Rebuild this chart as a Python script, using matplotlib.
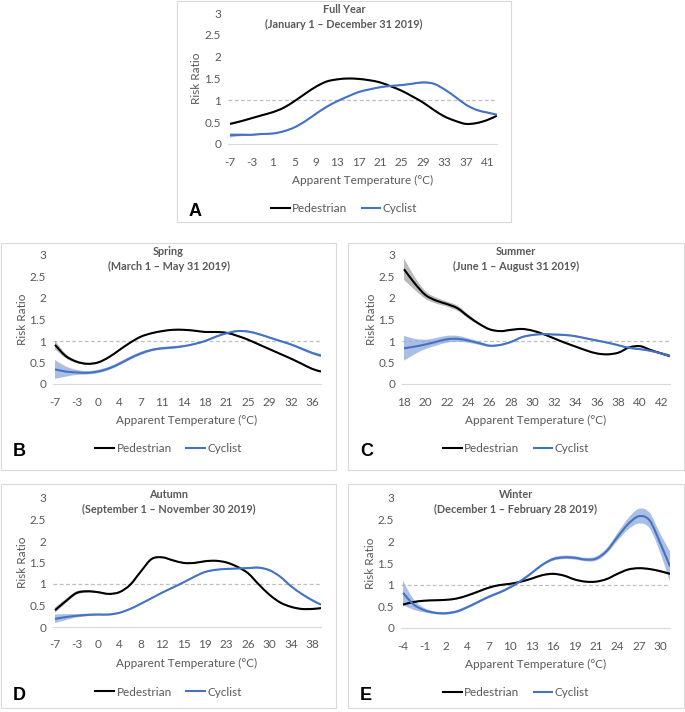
import numpy as np
import matplotlib
matplotlib.use('Agg')
import matplotlib.pyplot as plt
from matplotlib.patches import Rectangle, PathPatch
from matplotlib.path import Path
from matplotlib.lines import Line2D

plt.rcParams['font.family'] = ['Lato', 'DejaVu Sans']

W, H = 685, 712

# tick labels (Excel category axis, one label per tick position)
ticks_a = ['-7', '-3', '1', '5', '9', '13', '17', '21', '25', '29', '33', '37', '41']
ticks_b = ['-7', '-3', '0', '4', '7', '11', '14', '18', '21', '25', '29', '32', '36']
ticks_c = ['18', '20', '22', '24', '26', '28', '30', '32', '34', '36', '38', '40', '42']
ticks_d = ['-7', '-3', '0', '4', '8', '12', '15', '19', '23', '26', '30', '34', '38']
ticks_e = ['-4', '-1', '2', '4', '7', '10', '13', '16', '19', '21', '24', '27', '30']

# risk ratios read every half tick, last value at the right edge of the axis
ped_a = [0.46, 0.52, 0.59, 0.66, 0.73, 0.83, 0.98, 1.15, 1.31, 1.43, 1.48, 1.50, 1.49,
         1.46, 1.41, 1.32, 1.22, 1.09, 0.95, 0.78, 0.63, 0.53, 0.46, 0.48, 0.55, 0.65]
ped_a_ci = [0.03, 0.02, 0.015, 0.015, 0.015, 0.015, 0.015, 0.015, 0.015, 0.015, 0.015, 0.015, 0.015,
            0.015, 0.015, 0.015, 0.015, 0.015, 0.015, 0.015, 0.015, 0.015, 0.015, 0.015, 0.015, 0.02]
cyc_a = [0.20, 0.21, 0.21, 0.23, 0.24, 0.29, 0.38, 0.52, 0.69, 0.85, 0.98, 1.09, 1.19,
         1.25, 1.30, 1.33, 1.35, 1.38, 1.41, 1.38, 1.25, 1.08, 0.90, 0.78, 0.72, 0.67]
cyc_a_ci = [0.05, 0.03, 0.02, 0.015, 0.015, 0.015, 0.015, 0.015, 0.015, 0.015, 0.015, 0.015, 0.015,
            0.015, 0.015, 0.015, 0.015, 0.015, 0.02, 0.02, 0.015, 0.015, 0.015, 0.015, 0.02, 0.02]

ped_b = [0.91, 0.65, 0.52, 0.47, 0.50, 0.62, 0.79, 0.96, 1.10, 1.18, 1.23, 1.26, 1.26,
         1.24, 1.21, 1.21, 1.19, 1.12, 1.03, 0.92, 0.81, 0.70, 0.59, 0.47, 0.35, 0.29]
ped_b_ci = [0.10, 0.05, 0.03, 0.02, 0.02, 0.015, 0.015, 0.015, 0.015, 0.015, 0.015, 0.015, 0.015,
            0.015, 0.015, 0.015, 0.015, 0.015, 0.015, 0.015, 0.015, 0.015, 0.015, 0.015, 0.015, 0.02]
cyc_b = [0.34, 0.29, 0.27, 0.26, 0.29, 0.36, 0.47, 0.60, 0.71, 0.79, 0.83, 0.85, 0.88,
         0.93, 1.00, 1.10, 1.18, 1.23, 1.22, 1.16, 1.08, 1.00, 0.92, 0.82, 0.72, 0.66]
cyc_b_ci = [0.22, 0.12, 0.06, 0.04, 0.04, 0.04, 0.04, 0.04, 0.04, 0.03, 0.03, 0.03, 0.02,
            0.02, 0.02, 0.02, 0.02, 0.02, 0.02, 0.02, 0.02, 0.02, 0.02, 0.03, 0.03, 0.04]

ped_c = [2.67, 2.34, 2.07, 1.94, 1.86, 1.76, 1.57, 1.40, 1.27, 1.23, 1.26, 1.28, 1.24,
         1.16, 1.06, 0.96, 0.87, 0.78, 0.71, 0.69, 0.73, 0.85, 0.88, 0.79, 0.71, 0.65]
ped_c_ci = [0.25, 0.15, 0.09, 0.07, 0.06, 0.06, 0.05, 0.03, 0.02, 0.02, 0.02, 0.015, 0.015,
            0.015, 0.015, 0.015, 0.015, 0.015, 0.015, 0.015, 0.015, 0.02, 0.02, 0.02, 0.02, 0.03]
cyc_c = [0.83, 0.87, 0.92, 0.98, 1.04, 1.05, 1.01, 0.95, 0.89, 0.91, 0.98, 1.09, 1.14,
         1.16, 1.15, 1.14, 1.11, 1.06, 1.01, 0.96, 0.90, 0.84, 0.81, 0.77, 0.71, 0.65]
cyc_c_ci = [0.29, 0.18, 0.11, 0.09, 0.08, 0.07, 0.05, 0.04, 0.025, 0.02, 0.02, 0.02, 0.02,
            0.02, 0.02, 0.02, 0.02, 0.02, 0.02, 0.02, 0.02, 0.02, 0.02, 0.02, 0.03, 0.04]

ped_d = [0.39, 0.60, 0.79, 0.83, 0.81, 0.77, 0.81, 0.98, 1.29, 1.58, 1.62, 1.55, 1.49,
         1.49, 1.53, 1.54, 1.50, 1.40, 1.25, 0.99, 0.75, 0.57, 0.47, 0.42, 0.42, 0.44]
ped_d_ci = [0.06, 0.05, 0.04, 0.03, 0.02, 0.02, 0.015, 0.015, 0.015, 0.015, 0.015, 0.015, 0.015,
            0.015, 0.015, 0.015, 0.015, 0.015, 0.015, 0.015, 0.015, 0.015, 0.015, 0.015, 0.015, 0.02]
cyc_d = [0.19, 0.23, 0.26, 0.28, 0.29, 0.29, 0.33, 0.42, 0.54, 0.67, 0.80, 0.92, 1.04,
         1.17, 1.28, 1.33, 1.35, 1.36, 1.37, 1.38, 1.32, 1.17, 0.95, 0.77, 0.62, 0.52]
cyc_d_ci = [0.10, 0.07, 0.04, 0.03, 0.02, 0.02, 0.015, 0.015, 0.015, 0.015, 0.015, 0.015, 0.015,
            0.015, 0.015, 0.015, 0.015, 0.015, 0.02, 0.02, 0.02, 0.015, 0.015, 0.015, 0.02, 0.02]

ped_e = [0.54, 0.60, 0.63, 0.64, 0.65, 0.68, 0.75, 0.84, 0.93, 0.99, 1.02, 1.07, 1.14,
         1.22, 1.25, 1.21, 1.12, 1.07, 1.07, 1.13, 1.25, 1.35, 1.38, 1.36, 1.31, 1.25]
ped_e_ci = [0.03, 0.02, 0.015, 0.015, 0.015, 0.015, 0.015, 0.015, 0.015, 0.015, 0.015, 0.015, 0.015,
            0.015, 0.015, 0.015, 0.015, 0.015, 0.015, 0.015, 0.015, 0.015, 0.015, 0.015, 0.02, 0.03]
cyc_e = [0.81, 0.54, 0.41, 0.35, 0.34, 0.38, 0.48, 0.60, 0.72, 0.82, 0.94, 1.09, 1.27,
         1.46, 1.59, 1.63, 1.62, 1.58, 1.60, 1.78, 2.10, 2.40, 2.58, 2.48, 1.95, 1.42]
cyc_e_ci = [0.28, 0.12, 0.05, 0.03, 0.03, 0.03, 0.03, 0.03, 0.03, 0.03, 0.03, 0.03, 0.03,
            0.03, 0.04, 0.04, 0.04, 0.04, 0.05, 0.06, 0.09, 0.13, 0.17, 0.18, 0.22, 0.35]

panels = [
    # letter, title, subtitle, ticks, series, box (px), axes (px)
    ('A', 'Full Year', '(January 1 \u2013 December 31 2019)', ticks_a,
     (ped_a, ped_a_ci, cyc_a, cyc_a_ci), (177, 1, 511, 222), (228, 13, 497, 144)),
    ('B', 'Spring', '(March 1 \u2013 May 31 2019)', ticks_b,
     (ped_b, ped_b_ci, cyc_b, cyc_b_ci), (1, 243, 336, 470), (53, 255, 321, 384)),
    ('C', 'Summer', '(June 1 \u2013 August 31 2019)', ticks_c,
     (ped_c, ped_c_ci, cyc_c, cyc_c_ci), (348, 243, 684, 470), (402, 255, 670, 384)),
    ('D', 'Autumn', '(September 1 \u2013 November 30 2019)', ticks_d,
     (ped_d, ped_d_ci, cyc_d, cyc_d_ci), (1, 484, 336, 708), (53, 498, 321, 627)),
    ('E', 'Winter', '(December 1 \u2013 February 28 2019)', ticks_e,
     (ped_e, ped_e_ci, cyc_e, cyc_e_ci), (348, 484, 684, 708), (401, 498, 670, 628)),
]

PED = '#000000'
CYC = '#4472C4'
GRAY_TXT = '#595959'


def fx(px):
    return px / W


def fy(py):
    return 1 - py / H


def bezier_verts(x, y):
    # Excel style "smoothed line": cubic bezier segments through the points
    verts = [(x[0], y[0])]
    n = len(x)
    for i in range(n - 1):
        x0, y0 = (x[i - 1], y[i - 1]) if i > 0 else (x[i], y[i])
        x3, y3 = (x[i + 2], y[i + 2]) if i + 2 < n else (x[i + 1], y[i + 1])
        c1 = (x[i] + (x[i + 1] - x0) / 6, y[i] + (y[i + 1] - y0) / 6)
        c2 = (x[i + 1] - (x3 - x[i]) / 6, y[i + 1] - (y3 - y[i]) / 6)
        verts += [c1, c2, (x[i + 1], y[i + 1])]
    return verts


def smooth_line(ax, x, y, color):
    verts = bezier_verts(x, y)
    codes = [Path.MOVETO] + [Path.CURVE4] * (len(verts) - 1)
    ax.add_patch(PathPatch(Path(verts, codes), facecolor='none', edgecolor=color,
                           linewidth=1.5, zorder=3, capstyle='butt'))


def smooth_band(ax, x, lo, hi, color, alpha):
    up = bezier_verts(x, hi)
    dn = bezier_verts(x[::-1], lo[::-1])
    verts = up + dn + [up[0]]
    codes = ([Path.MOVETO] + [Path.CURVE4] * (len(up) - 1) + [Path.LINETO]
             + [Path.CURVE4] * (len(dn) - 1) + [Path.CLOSEPOLY])
    ax.add_patch(PathPatch(Path(verts, codes), facecolor=color, edgecolor='none',
                           alpha=alpha, zorder=2))


fig = plt.figure(figsize=(W / 100, H / 100), dpi=100)

handles = [Line2D([], [], color=PED, linewidth=1.5),
           Line2D([], [], color=CYC, linewidth=1.5)]

for letter, title, sub, ticks, series, box, axr in panels:
    ped, ped_ci, cyc, cyc_ci = [np.array(s) for s in series]
    bx0, by0, bx1, by1 = box
    ax0, ay0, ax1, ay1 = axr

    # light border round each chart
    fig.patches.append(Rectangle((fx(bx0), fy(by1)), (bx1 - bx0) / W, (by1 - by0) / H,
                                 transform=fig.transFigure, fill=False,
                                 edgecolor='#d9d9d9', linewidth=0.8))

    ax = fig.add_axes([fx(ax0), fy(ay1), (ax1 - ax0) / W, (ay1 - ay0) / H])
    spacing = 21.45
    x_left = -2.0 / spacing
    x_right = x_left + (ax1 - ax0) / spacing
    x = np.append(np.arange(len(ped) - 1) * 0.5, x_right)

    ax.axhline(1, color='#bfbfbf', linestyle=(0, (3, 2)), linewidth=0.9, zorder=1)
    smooth_band(ax, x, ped - ped_ci, ped + ped_ci, '#8c8c8c', 0.6)
    smooth_band(ax, x, cyc - cyc_ci, cyc + cyc_ci, '#8faadc', 0.75)
    smooth_line(ax, x, ped, PED)
    smooth_line(ax, x, cyc, CYC)

    ax.set_xlim(x_left, x_right)
    ax.set_ylim(0, 3)
    ax.set_xticks(range(len(ticks)))
    ax.set_xticklabels(ticks)
    ax.set_yticks([0, 0.5, 1, 1.5, 2, 2.5, 3])
    ax.set_yticklabels(['0', '0.5', '1', '1.5', '2', '2.5', '3'])
    ax.tick_params(length=0, labelsize=8.5, colors=GRAY_TXT, pad=5)
    ax.tick_params(axis='x', pad=9)
    for side in ['top', 'right', 'left']:
        ax.spines[side].set_visible(False)
    ax.spines['bottom'].set_color('#d9d9d9')
    ax.patch.set_alpha(0)

    bcx = (bx0 + bx1) / 2
    pcx = (ax0 + ax1) / 2
    fig.text(fx(bcx), fy(ay0 + 4), title + '\n' + sub, ha='center', va='center',
             fontsize=7.8, fontweight='bold', color=GRAY_TXT, linespacing=1.45)
    fig.text(fx(pcx), fy(ay1 + 36), 'Apparent Temperature (\u00b0C)', ha='center',
             va='center', fontsize=8.5, color=GRAY_TXT)
    fig.text(fx(ax0 - 31), fy((ay0 + ay1) / 2), 'Risk Ratio', ha='center', va='center',
             rotation=90, fontsize=8.5, color=GRAY_TXT)
    fig.legend(handles, ['Pedestrian', 'Cyclist'], loc='center',
               bbox_to_anchor=(fx(bcx), fy(ay1 + 65)), ncol=2, frameon=False,
               fontsize=8.5, handlelength=1.6, handletextpad=0.2, columnspacing=1.2,
               labelcolor=GRAY_TXT)
    fig.text(fx(bx0 + 12), fy(ay1 + 68), letter, ha='left', va='center',
             fontsize=13, fontweight='bold', family='Liberation Sans', color='black')

fig.savefig('out.png', dpi=100)
